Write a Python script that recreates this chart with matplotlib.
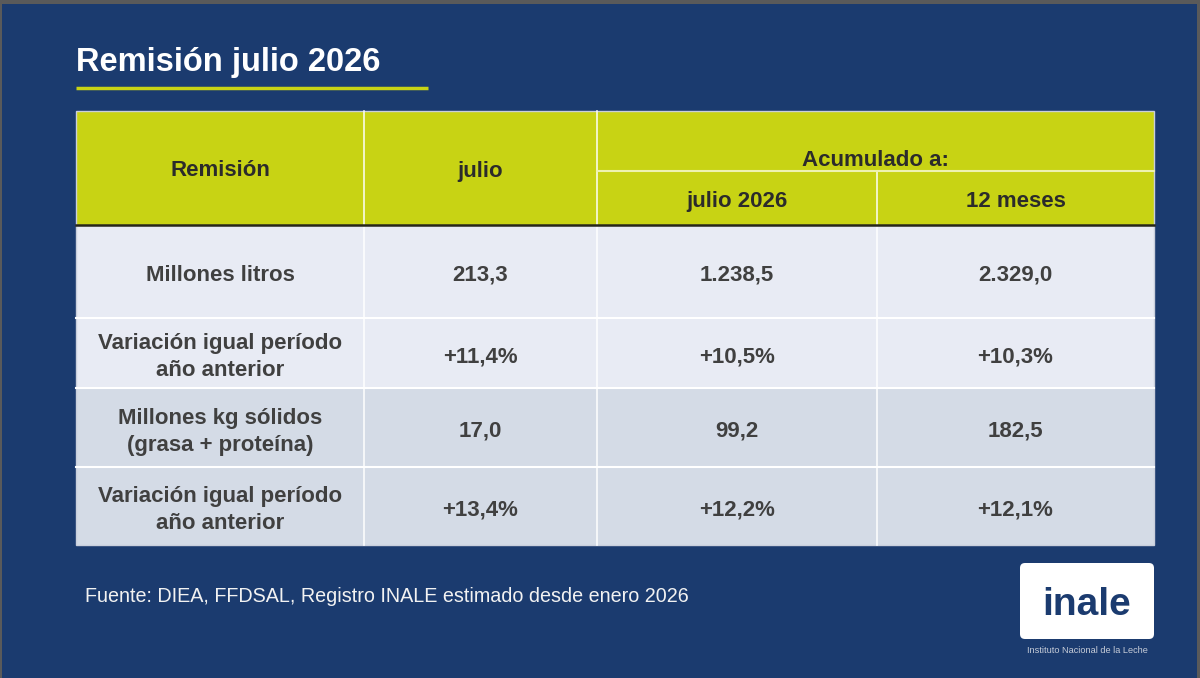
import matplotlib
matplotlib.use('Agg')
import matplotlib.pyplot as plt
from matplotlib.patches import Rectangle, FancyBboxPatch

plt.rcParams['font.family'] = ['Liberation Sans', 'DejaVu Sans']

# ------------------------------------------------------------
#  DATA
# ------------------------------------------------------------
title = 'Remisión julio 2026'
source = 'Fuente: DIEA, FFDSAL, Registro INALE estimado desde enero 2026'

col_headers = ['Remisión', 'julio']
group_header = 'Acumulado a:'
sub_headers = ['julio 2026', '12 meses']

row_labels = ['Millones litros',
              'Variación igual período\naño anterior',
              'Millones kg sólidos\n(grasa + proteína)',
              'Variación igual período\naño anterior']
row_kind = ['abs', 'pct', 'abs', 'pct']
julio = [213.3, 11.4, 17.0, 13.4]
acum_julio = [1238.5, 10.5, 99.2, 12.2]
acum_12m = [2329.0, 10.3, 182.5, 12.1]


def fmt(v, kind):
    s = f'{abs(v):,.1f}'.replace(',', 'X').replace('.', ',').replace('X', '.')
    if kind == 'pct':
        return ('+' if v >= 0 else '-') + s + '%'
    return s


# ------------------------------------------------------------
#  STYLE / LAYOUT (pixels)
# ------------------------------------------------------------
NAVY = '#1b3b6f'
LIME = '#c8d314'
ROW_LIGHT = '#e8ebf4'
ROW_DARK = '#d4dbe6'
HDR_TXT = '#2b2b2b'
BODY_TXT = '#404040'

col_x = [76, 364, 597, 877, 1154]
hdr_top, hdr_mid, hdr_bot = 111, 171, 225
row_y = [225, 318, 388, 467, 545]

fig = plt.figure(figsize=(12, 6.78), dpi=100)
fig.patch.set_facecolor('#5a5a5a')
ax = fig.add_axes([0, 0, 1, 1])
ax.set_xlim(0, 1200)
ax.set_ylim(678, 0)
ax.axis('off')

# background panel
ax.add_patch(Rectangle((2, 4), 1195, 674, facecolor=NAVY, edgecolor='none'))

# title + underline
ax.text(76, 71.5, title, color='white', fontsize=23.5, fontweight='bold',
        ha='left', va='baseline')
ax.plot([76, 428], [88, 88], color=LIME, lw=2.5, solid_capstyle='butt')

# header cells
ax.add_patch(Rectangle((col_x[0], hdr_top), col_x[-1] - col_x[0], hdr_bot - hdr_top,
                       facecolor=LIME, edgecolor='none'))
for i, lab in enumerate(col_headers):
    ax.text((col_x[i] + col_x[i + 1]) / 2, 176.5, lab,
            color=HDR_TXT, fontsize=16, fontweight='bold', ha='center', va='baseline')
ax.text((col_x[2] + col_x[4]) / 2, 166.5, group_header,
        color=HDR_TXT, fontsize=16, fontweight='bold', ha='center', va='baseline')
for i, lab in enumerate(sub_headers):
    ax.text((col_x[i + 2] + col_x[i + 3]) / 2, 207, lab,
            color=HDR_TXT, fontsize=16, fontweight='bold', ha='center', va='baseline')

# body cells
for r in range(len(row_labels)):
    y0, y1 = row_y[r], row_y[r + 1]
    ax.add_patch(Rectangle((col_x[0], y0), col_x[-1] - col_x[0], y1 - y0,
                           facecolor=ROW_LIGHT if r < 2 else ROW_DARK, edgecolor='none'))
    cells = [row_labels[r], fmt(julio[r], row_kind[r]),
             fmt(acum_julio[r], row_kind[r]), fmt(acum_12m[r], row_kind[r])]
    for c, txt in enumerate(cells):
        nlines = txt.count('\n') + 1
        # baseline of the last line
        base = (y0 + y1) / 2 + 9.5 + (nlines - 1) * 13.5
        ax.text((col_x[c] + col_x[c + 1]) / 2, base, txt,
                color=BODY_TXT, fontsize=16, fontweight='bold',
                ha='center', va='baseline', linespacing=1.35)

# grid lines
for x in col_x[1:-1]:
    top = hdr_mid if x == col_x[3] else hdr_top
    ax.plot([x, x], [top, row_y[-1]], color='white', lw=1.2, alpha=0.9)
ax.plot([col_x[2], col_x[4]], [hdr_mid, hdr_mid], color='#eef2b0', lw=1.5)
for y in row_y[1:-1]:
    ax.plot([col_x[0], col_x[-1]], [y, y], color='white', lw=1.5)
ax.plot([col_x[0], col_x[-1]], [hdr_bot, hdr_bot], color='#26261a', lw=1.8)
ax.add_patch(Rectangle((col_x[0], hdr_top), col_x[-1] - col_x[0], row_y[-1] - hdr_top,
                       facecolor='none', edgecolor='#c9cfdc', lw=1.0))

# footer
ax.text(85, 601.5, source, color='#f2f2f2', fontsize=14.2, ha='left', va='baseline')

# logo
ax.add_patch(FancyBboxPatch((1023, 566), 128, 70,
                            boxstyle='round,pad=3,rounding_size=5',
                            facecolor='white', edgecolor='none'))
ax.text(1087, 615, 'inale', color=NAVY, fontsize=28, fontweight='bold',
        ha='center', va='baseline')
ax.text(1087, 653, 'Instituto Nacional de la Leche', color='#c6ccd8',
        fontsize=6.6, ha='center', va='baseline')

fig.savefig('out.png', dpi=100, facecolor=fig.get_facecolor())
